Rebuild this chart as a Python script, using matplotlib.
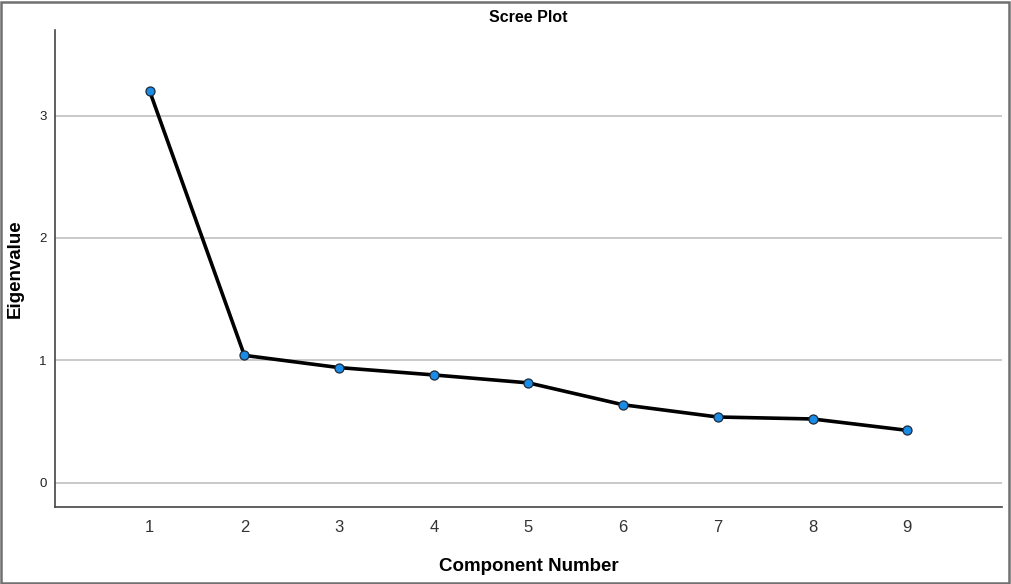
import matplotlib.pyplot as plt
from matplotlib.patches import Rectangle

# данные (собственные значения)
components = [1, 2, 3, 4, 5, 6, 7, 8, 9]
eigenvalues = [3.20, 1.04, 0.94, 0.88, 0.815, 0.636, 0.536, 0.52, 0.427]
y_ticks = [0, 1, 2, 3]

plt.rcParams['font.family'] = ['Liberation Sans', 'DejaVu Sans']

fig = plt.figure(figsize=(10.11, 5.84), dpi=100)
ax = fig.add_axes([0.0544, 0.1318, 0.9366, 0.8168])

ax.plot(components, eigenvalues, color='black', linewidth=2.6, zorder=3,
        marker='o', markersize=6.5, markerfacecolor='#1a8ce6',
        markeredgecolor='#1c2a3a', markeredgewidth=0.9)

ax.set_xlim(0, 10)
ax.set_ylim(-0.2, 3.7)
ax.set_xticks(components)
ax.set_yticks(y_ticks)
ax.tick_params(axis='x', length=0, labelsize=12, labelcolor='#333333', pad=9)
ax.tick_params(axis='y', length=0, labelsize=9.5, labelcolor='#222222', pad=6)

ax.grid(axis='y', color='#c0c0c0', linewidth=1.2)
ax.set_axisbelow(True)
for s in ['top', 'right']:
    ax.spines[s].set_visible(False)
for s in ['left', 'bottom']:
    ax.spines[s].set_color('#444444')
    ax.spines[s].set_linewidth(1.2)

ax.set_title('Scree Plot', fontsize=11.5, fontweight='bold', pad=6)
ax.set_xlabel('Component Number', fontsize=13.5, fontweight='bold', labelpad=17)
ax.set_ylabel('Eigenvalue', fontsize=13.5, fontweight='bold')
ax.yaxis.set_label_coords(-0.033, 0.5)

# рамка вокруг рисунка
fig.patches.append(Rectangle((0.001, 0.002), 0.997, 0.995, transform=fig.transFigure,
                             fill=False, edgecolor='#707070', linewidth=1.8))

fig.savefig('out.png', dpi=100)
